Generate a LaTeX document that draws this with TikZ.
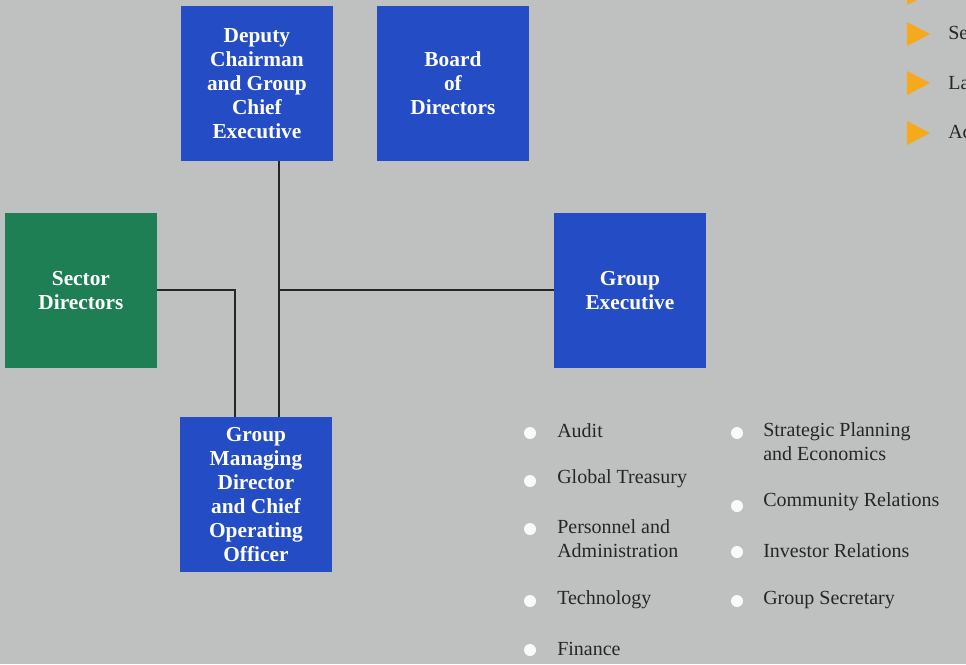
\documentclass[tikz,border=0pt]{standalone}
\usepackage{fontspec}
\setmainfont{Liberation Serif}
\begin{document}
\begin{tikzpicture}[x=0.75pt,y=-0.75pt,
  box/.style={fill=boxblue,draw=none,minimum width=113.5pt,minimum height=116pt,inner sep=0pt,anchor=north west,text=white,font=\fontsize{16}{18}\selectfont\bfseries,align=center},
  gbox/.style={box,fill=boxgreen},
  conn/.style={draw=black!85,line width=1.4pt},
  dot/.style={circle,fill=white!96!gray,draw=none,minimum size=9pt,inner sep=0pt},
  item/.style={anchor=west,inner sep=0pt,font=\fontsize{15}{18}\selectfont,text=black!85,align=left},
  tri/.style={fill=triorange,draw=none}]
\definecolor{bg}{RGB}{191,193,192}
\definecolor{boxblue}{RGB}{36,76,196}
\definecolor{boxgreen}{RGB}{30,126,84}
\definecolor{triorange}{RGB}{245,170,30}
\fill[bg] (0,0) rectangle (966,664);
\useasboundingbox (0,0) rectangle (966,664);
\begin{scope}
\clip (0,0) rectangle (966,664);
% boxes
\node[box] (dep) at (181,6) {Deputy\\Chairman\\and Group\\Chief\\Executive};
\node[box] (board) at (377,6) {Board\\of\\Directors};
\node[gbox] (sect) at (5,213) {Sector\\Directors};
\node[box] (gexec) at (554,213) {Group\\Executive};
\node[box] (gmd) at (180,417) {Group\\Managing\\Director\\and Chief\\Operating\\Officer};
% connectors
\coordinate (j) at (279,290);
\coordinate (k) at (235,290);
\draw[conn] (dep.south -| j) -- (gmd.north -| j);
\draw[conn] (j) -- (gexec.west |- j);
\draw[conn] (sect.east |- k) -- (k) -- (gmd.north -| k);
% left list
\node[dot] (d1) at (530,433) {};
\node[item] (t1) at (557,431) {Audit};
\node[dot] (d2) at (530,481) {};
\node[item] (t2) at (557,479) {Global Treasury};
\node[dot] (d3) at (530,529) {};
\node[item] (t3) at (557,539) {Personnel and\\Administration};
\node[dot] (d4) at (530,601) {};
\node[item] (t4) at (557,600) {Technology};
\node[dot] (d5) at (530,650) {};
\node[item] (t5) at (557,649) {Finance};
% right list
\node[dot] (e1) at (737,433) {};
\node[item] (u1) at (763,442) {Strategic Planning\\and Economics};
\node[dot] (e2) at (737,506) {};
\node[item] (u2) at (763,502) {Community Relations};
\node[dot] (e3) at (737,552) {};
\node[item] (u3) at (763,551) {Investor Relations};
\node[dot] (e4) at (737,601) {};
\node[item] (u4) at (763,600) {Group Secretary};
% top right markers
\fill[tri] (907,-18) -- (930,-6) -- (907,5) -- cycle;
\fill[tri] (907,22) -- (930,34) -- (907,46) -- cycle;
\fill[tri] (907,71) -- (930,83) -- (907,95) -- cycle;
\fill[tri] (907,121) -- (930,133) -- (907,145) -- cycle;
\node[item] (s1) at (948,33) {Se};
\node[item] (s2) at (948,83) {La};
\node[item] (s3) at (948,132) {Ac};
\end{scope}
\end{tikzpicture}
\end{document}
